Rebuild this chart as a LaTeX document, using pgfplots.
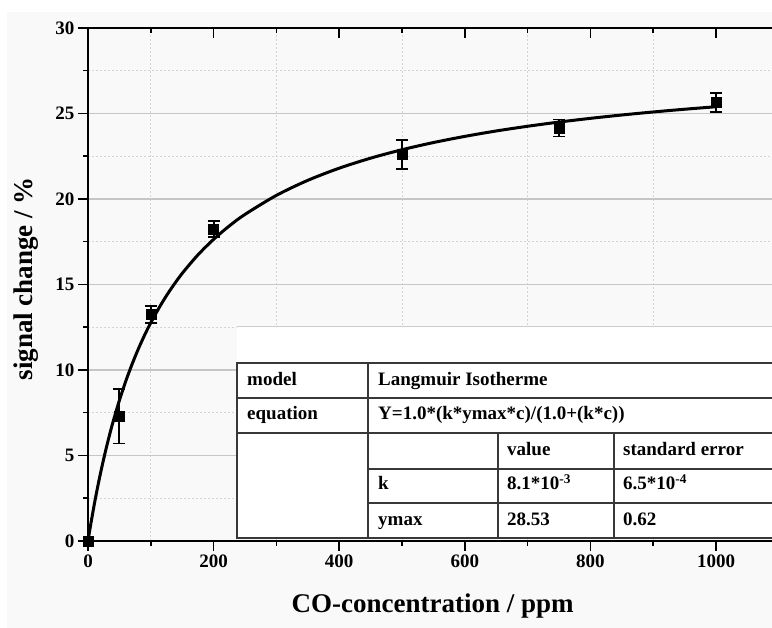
\documentclass[border=0pt]{standalone}
\usepackage{fontspec}
\setmainfont{Liberation Serif}
\usepackage{pgfplots}
\pgfplotsset{compat=1.18}

\definecolor{panel}{HTML}{F9F9F9}
\definecolor{gridmaj}{HTML}{C6C6C6}
\definecolor{gridmin}{HTML}{D4D4D4}
\definecolor{rule}{HTML}{383838}

% measured signal change (mean and standard deviation)
\pgfplotstableread{
c     s      e
0     0.00   0.00
50    7.30   1.60
100   13.25  0.50
200   18.25  0.45
500   22.60  0.85
750   24.15  0.50
1000  25.65  0.55
}\measured

% Langmuir fit, k = 8.1e-3, ymax = 28.53
\pgfplotstableread{
c     s
0     0.000
2.5   0.566
5     1.110
10    2.138
15    3.091
20    3.978
25    4.802
30    5.578
35    6.301
40    6.982
50    8.224
60    9.331
70    10.323
80    11.218
90    12.030
100   12.768
115   13.752
130   14.628
150   15.649
175   16.729
200   17.641
225   18.424
250   19.099
300   20.212
350   21.091
400   21.801
450   22.388
500   22.881
550   23.301
600   23.661
650   23.978
700   24.253
750   24.499
800   24.716
850   24.912
900   25.089
950   25.249
1000  25.395
}\langmuir

\begin{document}
\begin{tikzpicture}
\useasboundingbox (0,0) rectangle (772pt,628pt);
\fill[white] (0,0) rectangle (772pt,628pt);
\fill[panel] (7pt,0) rectangle (772pt,616pt);

\begin{axis}[
  at={(88pt,87pt)}, anchor=south west,
  scale only axis, width=690.8pt, height=513pt,
  xmin=0, xmax=1100, ymin=0, ymax=30,
  xtick={0,200,...,1000}, ytick={0,5,...,30},
  minor xtick={100,300,...,900},
  minor ytick={2.5,7.5,...,27.5},
  xtick pos=left, ytick pos=left, tick align=outside,
  major tick length=10pt, minor tick length=5pt,
  every tick/.style={black, line width=1.5pt},
  axis line style={line width=1.8pt},
  ymajorgrids, yminorgrids, xminorgrids,
  major grid style={gridmaj, line width=1.2pt},
  minor grid style={gridmin, line width=0.9pt, dash pattern=on 1.5pt off 2.5pt},
  /pgf/number format/assume math mode=true,
  /pgf/number format/1000 sep={},
  ticklabel style={font=\fontsize{19}{22}\selectfont\bfseries},
  label style={font=\fontsize{27}{31}\selectfont\bfseries},
  xlabel={CO-concentration / ppm},
  ylabel={signal change / \%},
  xlabel style={at={(axis description cs:0.499,-0.140)}, anchor=base},
  ylabel style={at={(axis description cs:-0.081,0.511)}, anchor=base},
  clip=false,
]
\addplot[black, line width=3pt, line join=round, smooth] table[x=c, y=s] {\langmuir};
\addplot[black, only marks, mark=square*, mark size=5pt,
  error bars/.cd, y dir=both, y explicit,
  error bar style={line width=2pt, black},
  error mark options={rotate=90, mark size=6pt, line width=1.8pt, black}]
  table[x=c, y=s, y error=e] {\measured};
\end{axis}

% inward ticks along the top edge
\begin{axis}[
  at={(88pt,87pt)}, anchor=south west,
  scale only axis, width=690.8pt, height=513pt,
  xmin=0, xmax=1100, ymin=0, ymax=30,
  xtick={0,200,...,1000}, minor xtick={100,300,...,900},
  ytick=\empty, xticklabels={},
  xtick pos=right, tick align=inside,
  major tick length=10pt, minor tick length=5pt,
  every tick/.style={black, line width=1.5pt},
  axis line style={draw=none},
]
\end{axis}

% fit parameter table
\begin{scope}[shift={(0pt,628pt)}, x=1pt, y=-1pt]
  \fill[white] (237,326) rectangle (780,539);
  \draw[gray!40, line width=1pt] (237,326.5) -- (780,326.5);
  \begin{scope}[rule, line width=1.3pt]
    \draw (237,363) rectangle (790,538);
    \draw (237,398) -- (790,398);
    \draw (237,433) -- (790,433);
    \draw (368,469) -- (790,469);
    \draw (368,503) -- (790,503);
    \draw (368,363) -- (368,538);
    \draw (498,433) -- (498,538);
    \draw (614,433) -- (614,538);
  \end{scope}
  \begin{scope}[every node/.style={anchor=base west, inner sep=0pt,
      font=\fontsize{19}{22}\selectfont\bfseries}]
    \node at (247,386) {model};
    \node at (378,386) {Langmuir Isotherme};
    \node at (247,420) {equation};
    \node at (378,420) {Y=1.0*(k*ymax*c)/(1.0+(k*c))};
    \node at (507,456) {value};
    \node at (623,456) {standard error};
    \node at (378,490) {k};
    \node at (507,490) {8.1*10\textsuperscript{-3}};
    \node at (623,490) {6.5*10\textsuperscript{-4}};
    \node at (378,526) {ymax};
    \node at (507,526) {28.53};
    \node at (623,526) {0.62};
  \end{scope}
\end{scope}
\end{tikzpicture}
\end{document}
